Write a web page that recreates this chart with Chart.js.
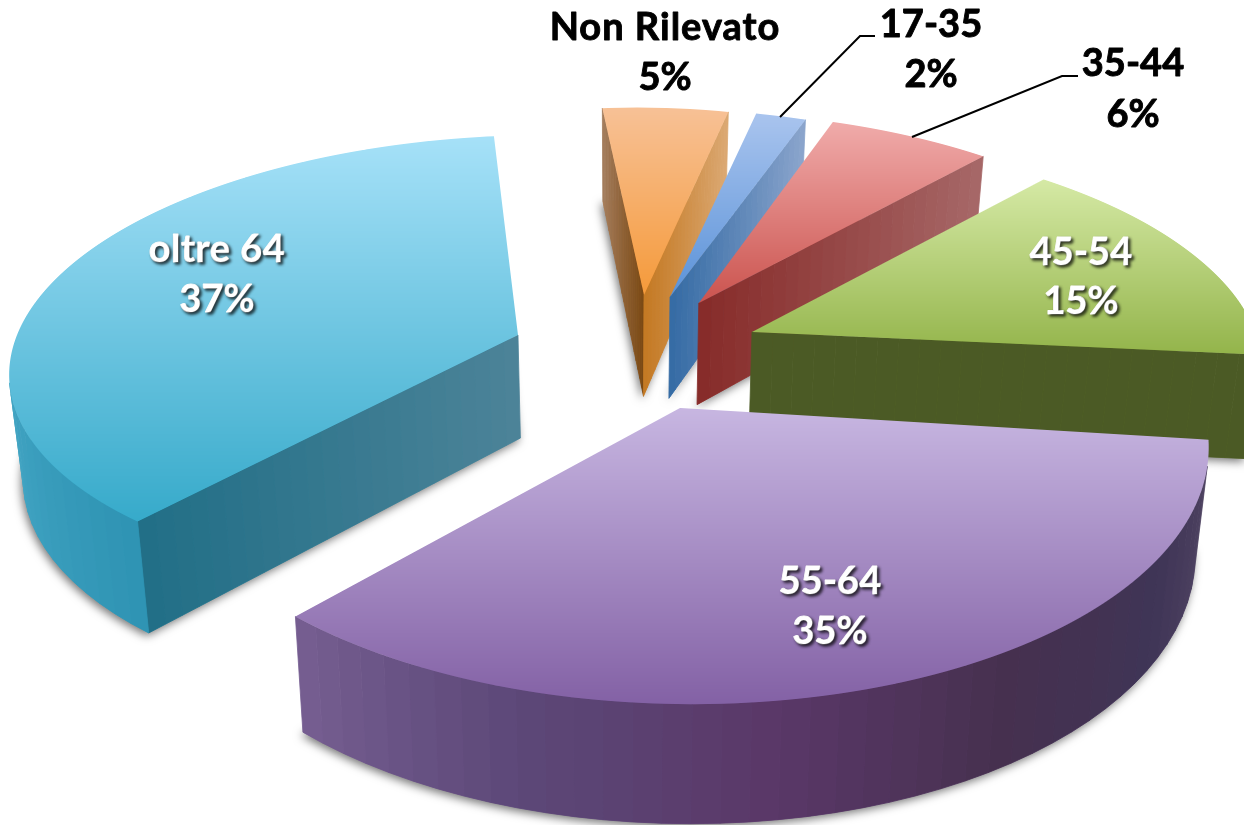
<!DOCTYPE html>
<html>
<head>
<meta charset="utf-8">
<script src="https://cdn.jsdelivr.net/npm/chart.js@4"></script>
<style>
html, body { margin: 0; padding: 0; background: #fff; }
canvas { display: block; }
</style>
</head>
<body>
<canvas id="graficoEta" width="1244" height="825"></canvas>
<script>
var categories = ['Non Rilevato', '17-35', '35-44', '45-54', '55-64', 'oltre 64'];
var values = [5, 2, 6, 15, 35, 37];

// colours, top face light to saturated
var faceTop = ['#F7C196', '#A9C4EE', '#F0ABAA', '#D5E9A5', '#C7B6E1', '#A6E1F8'];
var faceBottom = ['#F59A3A', '#5A92D8', '#CB534E', '#93B44A', '#8361A5', '#36AACA'];
// walls: first radial face [apex, rim], last radial face [rim, apex], rim stops
var wallStart = [['#7A4914', '#A37C5C'], ['#3A6EA5', '#3A6EA5'], ['#8A2F2D', '#8A2F2D'], ['#4B5A25', '#4B5A25'], ['#5A4570', '#5A4570'], ['#4C8398', '#226F87']];
var wallEnd = [['#DBA872', '#C47A25'], ['#8AA4CC', '#366CA5'], ['#A66767', '#872C2A'], ['#4B5A25', '#4B5A25'], ['#5A4570', '#5A4570'], ['#3A7F95', '#3A7F95']];
var wallRim = [['#C98A4A'], ['#5A86BC'], ['#A66767'], ['#4B5A25'],
    ['#524664', '#3F3556', '#46304F', '#5A3868', '#5C4878', '#755D90'],
    ['#2F94B4', '#52B2D0', '#52B2D0']];

// which order to paint, back to front
var paintOrder = [0, 1, 2, 3, 5, 4];

// camera: ground plane to screen
var camX = 622, camY = 400, camF = 520.7, camG = 256, camC = 0.0005;
var pieDepth = 106, wallLean = 0.023;
// slice explosion on the ground plane and its shape there
var explodeU = [0.0446, 0.0972, 0.155, 0.2585, 0.111, -0.2065];
var explodeV = [-0.433, -0.424, -0.398, -0.275, 0.031, -0.2625];
var radiusU = [0.905, 0.905, 0.98, 1, 1, 0.995];
var radiusV = [0.905, 0.905, 0.92, 0.93, 1, 0.93];
var sliceTwist = [0.011, 0, 0.025, 0.02, -0.014, -0.01];
var sliceTilt = [0, 0, 0, 0, 0.02, -0.025];

var labelX = [665, 931, 1133, 1081, 830, 217];
var labelY = [28, 25, 64, 253, 582, 250];
var labelGap = [50, 50, 51, 49, 50, 50];
var labelSpacing = [1, 0, 0, 0, 0, 0.5];
var labelInside = [false, false, false, true, true, true];

function mix(c1, c2, f) {
    var out = [];
    for (var k = 0; k < 3; k++) {
        var a = parseInt(c1.substr(1 + k * 2, 2), 16);
        var b = parseInt(c2.substr(1 + k * 2, 2), 16);
        out.push(Math.round(a + (b - a) * f));
    }
    return 'rgb(' + out.join(',') + ')';
}

function stopColor(stops, f) {
    if (stops.length === 1) return mix(stops[0], stops[0], 0);
    var p = Math.min(f, 0.9999) * (stops.length - 1);
    var n = Math.floor(p);
    return mix(stops[n], stops[n + 1], p - n);
}

// point on slice i at angle t, r=0 is the tip, r=1 the rim
function project(i, t, r) {
    var u = explodeU[i] + radiusU[i] * r * (Math.cos(t) + sliceTwist[i] * Math.sin(t));
    var v = explodeV[i] + radiusV[i] * r * Math.sin(t) + sliceTilt[i] * r * Math.cos(t);
    var h = 1 / (1 - camC * camG * v);
    return { x: camX + camF * u * h, y: camY + camG * v * h, h: h };
}

function drop(p) {
    return { x: p.x + (camX - p.x) * wallLean, y: p.y + pieDepth * Math.pow(p.h, 0.85) };
}

function wallQuad(ctx, a, b, color) {
    var c = drop(b), d = drop(a);
    var pts = [a, b, c, d], area = 0;
    for (var k = 0; k < 4; k++) {
        var q = pts[(k + 1) % 4];
        area += pts[k].x * q.y - q.x * pts[k].y;
    }
    if (area >= 0) return; // faces away
    ctx.beginPath();
    ctx.moveTo(a.x, a.y);
    ctx.lineTo(b.x, b.y);
    ctx.lineTo(c.x, c.y);
    ctx.lineTo(d.x, d.y);
    ctx.closePath();
    ctx.fillStyle = color;
    ctx.strokeStyle = color;
    ctx.lineWidth = 0.8;
    ctx.fill();
    ctx.stroke();
}

function drawWalls(ctx, i, arc) {
    var tip = project(i, 0, 0);
    var n, k, a, b;

    // soft shadow under the solid
    ctx.save();
    ctx.shadowColor = 'rgba(0,0,0,0.55)';
    ctx.shadowBlur = 10;
    ctx.shadowOffsetX = -2;
    ctx.shadowOffsetY = 3;
    ctx.fillStyle = faceBottom[i];
    ctx.beginPath();
    var d0 = drop(tip);
    ctx.moveTo(d0.x, d0.y);
    for (k = 0; k <= 60; k++) {
        var dp = drop(project(i, arc.startAngle + (arc.endAngle - arc.startAngle) * k / 60, 1));
        ctx.lineTo(dp.x, dp.y);
    }
    ctx.closePath();
    ctx.fill();
    ctx.restore();

    // radial faces
    n = 24;
    for (k = 0; k < n; k++) {
        a = project(i, arc.startAngle, k / n);
        b = project(i, arc.startAngle, (k + 1) / n);
        wallQuad(ctx, a, b, stopColor(wallStart[i], k / (n - 1)));
    }
    for (k = 0; k < n; k++) {
        a = project(i, arc.endAngle, 1 - k / n);
        b = project(i, arc.endAngle, 1 - (k + 1) / n);
        wallQuad(ctx, a, b, stopColor(wallEnd[i], k / (n - 1)));
    }
    // rim, in narrow bands
    n = Math.max(2, Math.round((arc.endAngle - arc.startAngle) / 0.05));
    for (k = 0; k < n; k++) {
        a = project(i, arc.startAngle + (arc.endAngle - arc.startAngle) * k / n, 1);
        b = project(i, arc.startAngle + (arc.endAngle - arc.startAngle) * (k + 1) / n, 1);
        wallQuad(ctx, a, b, stopColor(wallRim[i], k / (n - 1)));
    }
}

// the arc element draws itself row by row, each row with the camera scale of that row
function drawFace(ctx, i, arc) {
    var minY = 1e9, maxY = -1e9;
    var pts = [project(i, 0, 0)];
    for (var k = 0; k <= 60; k++) {
        pts.push(project(i, arc.startAngle + (arc.endAngle - arc.startAngle) * k / 60, 1));
    }
    pts.forEach(function (p) {
        minY = Math.min(minY, p.y);
        maxY = Math.max(maxY, p.y);
    });
    var saved = arc.options;
    var opts = Object.assign({}, saved);
    arc.options = opts;
    var from = Math.max(0, Math.floor(minY) - 1);
    var to = Math.min(chartHeight - 1, Math.ceil(maxY) + 1);
    for (var row = from; row <= to; row++) {
        var Y = row + 0.5 - camY;
        var h = 1 + camC * Y;
        var v = Y / (camG * h);
        var ma = camF * h * radiusU[i] / arc.outerRadius;
        var mc = ma * sliceTwist[i];
        var md = camG * h * h * radiusV[i] / arc.outerRadius;
        var mb = camG * h * h * sliceTilt[i] / arc.outerRadius;
        opts.backgroundColor = mix(faceTop[i], faceBottom[i], Math.max(0, Math.min(1, (row - minY) / (maxY - minY))));
        ctx.save();
        ctx.beginPath();
        ctx.rect(0, row, chartWidth, 1);
        ctx.clip();
        ctx.setTransform(ma, mb, mc, md,
            camX + camF * h * explodeU[i] - ma * arc.x - mc * arc.y,
            camY + Y + camG * h * h * (explodeV[i] - v) - md * arc.y - mb * arc.x);
        arc.draw(ctx);
        ctx.restore();
    }
    arc.options = saved;
}

var chartWidth = 1244, chartHeight = 825;

var solidPlugin = {
    id: 'solidPie',
    beforeDatasetsDraw: function (chart) {
        var ctx = chart.ctx;
        var arcs = chart.getDatasetMeta(0).data;
        paintOrder.forEach(function (i) {
            drawWalls(ctx, i, arcs[i]);
            drawFace(ctx, i, arcs[i]);
        });
        return false;
    },
    afterDraw: function (chart) {
        var ctx = chart.ctx;
        ctx.save();
        // leader lines
        ctx.strokeStyle = '#000';
        ctx.lineWidth = 2;
        ctx.beginPath();
        ctx.moveTo(780, 117); ctx.lineTo(860, 36); ctx.lineTo(875, 36);
        ctx.moveTo(912, 137); ctx.lineTo(1062, 76); ctx.lineTo(1078, 76);
        ctx.stroke();

        ctx.font = 'bold 38px Lato';
        ctx.textAlign = 'center';
        ctx.textBaseline = 'middle';
        ctx.lineJoin = 'round';
        categories.forEach(function (name, i) {
            ctx.save();
            if (labelInside[i]) {
                ctx.fillStyle = '#fff';
                ctx.shadowColor = 'rgba(0,0,0,0.75)';
                ctx.shadowBlur = 3;
                ctx.shadowOffsetX = 2;
                ctx.shadowOffsetY = 2;
            } else {
                ctx.fillStyle = '#000';
            }
            ctx.strokeStyle = ctx.fillStyle;
            ctx.lineWidth = 0.9;
            ctx.letterSpacing = labelSpacing[i] + 'px';
            ctx.strokeText(name, labelX[i], labelY[i]);
            ctx.fillText(name, labelX[i], labelY[i]);
            ctx.letterSpacing = '0px';
            ctx.strokeText(values[i] + '%', labelX[i], labelY[i] + labelGap[i]);
            ctx.fillText(values[i] + '%', labelX[i], labelY[i] + labelGap[i]);
            ctx.restore();
        });
        ctx.restore();
    }
};

var graficoEta = new Chart(document.getElementById('graficoEta').getContext('2d'), {
    type: 'pie',
    data: {
        labels: categories,
        datasets: [{
            label: 'Età',
            data: values,
            backgroundColor: faceBottom,
            borderWidth: 0
        }]
    },
    options: {
        responsive: false,
        animation: false,
        rotation: -5,
        layout: { padding: 0 },
        plugins: {
            legend: { display: false },
            tooltip: { enabled: false }
        }
    },
    plugins: [solidPlugin]
});
</script>
</body>
</html>
